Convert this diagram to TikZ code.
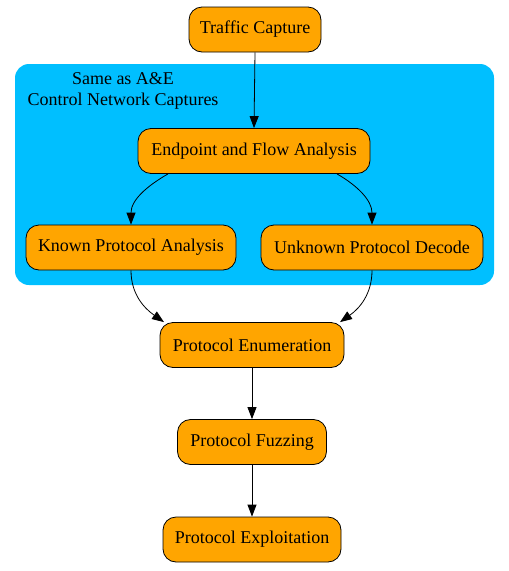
\documentclass[tikz,border=0pt]{standalone}
\usepackage{fontspec}
\setmainfont{Liberation Serif}
\usetikzlibrary{arrows.meta}
\definecolor{skyblue}{HTML}{00BFFF}
\definecolor{boxorange}{HTML}{FFA500}
\tikzset{
  stage/.style={draw=black, fill=boxorange, rounded corners=13pt, minimum height=45pt,
    inner xsep=10pt, line width=0.8pt, font=\fontsize{18}{20}\selectfont},
  flow/.style={-{Triangle[length=12pt,width=9pt]}, black, line width=0.8pt}
}
\begin{document}
\begin{tikzpicture}[x=1pt,y=1pt]
\useasboundingbox (0,0) rectangle (509,-571);
%cluster
\fill[skyblue, rounded corners=14pt] (15,-64) rectangle (494,-285);
\node[align=center, font=\fontsize{18}{21}\selectfont] (cap) at (123,-91) {Same as A\&E\\Control Network Captures};
%stages
\node[stage, minimum width=132pt] (tc) at (255,-29.5) {Traffic Capture};
\node[stage, minimum width=232pt] (ep) at (254,-151) {Endpoint and Flow Analysis};
\node[stage, minimum width=210pt] (kp) at (131,-247.5) {Known Protocol Analysis};
\node[stage, minimum width=222pt] (up) at (372,-247.5) {Unknown Protocol Decode};
\node[stage, minimum width=184pt] (pe) at (252,-345) {Protocol Enumeration};
\node[stage, minimum width=149pt] (pf) at (252,-442) {Protocol Fuzzing};
\node[stage, minimum width=178pt] (px) at (252,-539.5) {Protocol Exploitation};
%edges
\draw[flow] (tc.south) -- (ep.north);
\draw[flow] ([xshift=-86pt]ep.south) to [out=-150, in=90] (kp.north);
\draw[flow] ([xshift=83pt]ep.south) to [out=-30, in=90] (up.north);
\draw[flow] (kp.south) to [out=-90, in=145] ([xshift=-88pt]pe.north);
\draw[flow] (up.south) to [out=-90, in=35] ([xshift=88pt]pe.north);
\draw[flow] (pe.south) -- (pf.north);
\draw[flow] (pf.south) -- (px.north);
\end{tikzpicture}
\end{document}
